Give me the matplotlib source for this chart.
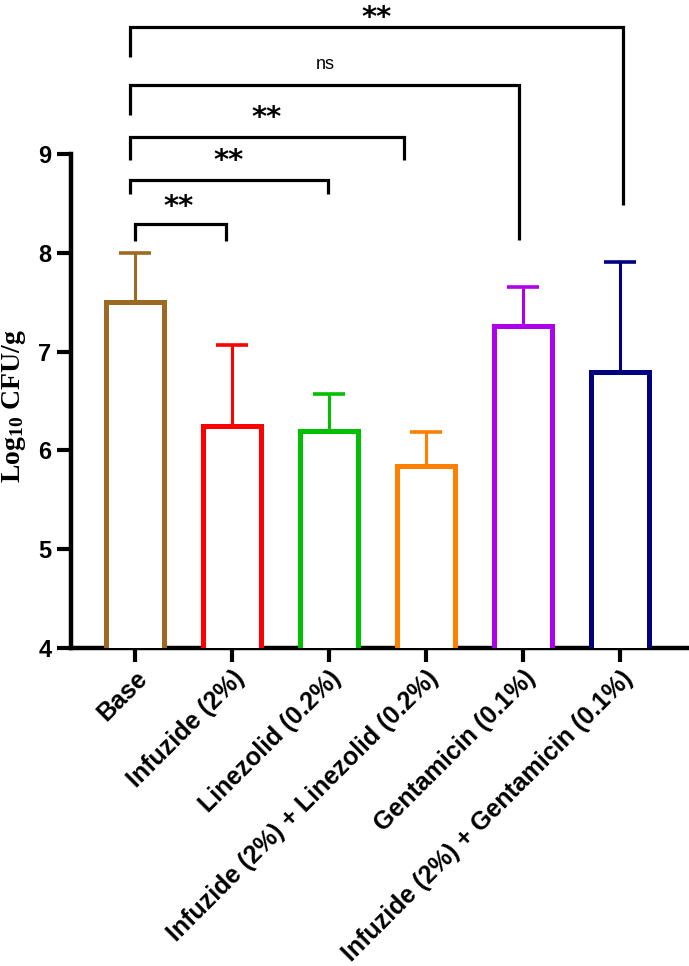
import numpy as np
import matplotlib
matplotlib.use("Agg")
import matplotlib.pyplot as plt

groups = ["Base", "Infuzide (2%)", "Linezolid (0.2%)", "Infuzide (2%) + Linezolid (0.2%)",
          "Gentamicin (0.1%)", "Infuzide (2%) + Gentamicin (0.1%)"]
means = [7.50, 6.25, 6.20, 5.84, 7.26, 6.79]
upper = [8.00, 7.07, 6.57, 6.19, 7.65, 7.91]   # top of error bar
colors = ["#9C6A22", "#FF0000", "#00C000", "#FF8000", "#AE00EA", "#000080"]

# significance brackets: (x left, x right, y bar, y left end, y right end, label, label x, label y)
brackets = [
    (0.00, 0.94, 8.29, 8.12, 8.12, "**", 0.45, 8.46),
    (-0.05, 1.99, 8.74, 8.59, 8.59, "**", 0.96, 8.93),
    (-0.05, 2.77, 9.17, 8.94, 8.94, "**", 1.36, 9.36),
    (-0.05, 3.96, 9.70, 9.39, 8.13, "ns", 1.96, 9.91),
    (-0.05, 5.03, 10.29, 9.98, 8.48, "**", 2.49, 10.38),
]

plt.rcParams['font.family'] = ['Liberation Sans', 'DejaVu Sans']
plt.rcParams['mathtext.fontset'] = 'custom'
plt.rcParams['mathtext.rm'] = 'Liberation Serif:bold'
plt.rcParams['mathtext.default'] = 'regular'

fig = plt.figure(figsize=(6.89, 9.66), dpi=100)
ax = fig.add_axes([0.103, 0.3292, 0.896, 0.5114])

x = np.arange(len(groups))
means = np.array(means)
err = np.array(upper) - means

for i in range(len(groups)):
    ax.errorbar(x[i], means[i], yerr=[[0], [err[i]]], fmt='none', ecolor=colors[i],
                elinewidth=2.2, capsize=11.5, capthick=2.6, zorder=2)
    ax.bar(x[i], means[i], width=0.6, color='white', edgecolor=colors[i],
           linewidth=3.6, zorder=3)

for x0, x1, yb, yl, yr, lab, tx, ty in brackets:
    ax.plot([x0, x0, x1, x1], [yl, yb, yb, yr], color='black', lw=2.3,
            clip_on=False, solid_capstyle='butt', solid_joinstyle='miter', zorder=4)
    if lab == "ns":
        ax.text(tx, ty, lab, ha='center', va='center', fontsize=13, clip_on=False)
    else:
        ax.text(tx, ty, lab, ha='center', va='center', fontsize=21, fontweight='bold',
                family='DejaVu Sans', clip_on=False)

ax.set_ylim(4, 9)
ax.set_xlim(-0.66, 5.70)
ax.set_yticks([4, 5, 6, 7, 8, 9])
ax.set_xticks(x)
ax.set_xticklabels(groups, rotation=45, ha='right', rotation_mode='anchor')
for t in ax.get_xticklabels():
    t.set_fontweight('bold')
    t.set_fontsize(18)
for t in ax.get_yticklabels():
    t.set_fontweight('bold')
    t.set_fontsize(17)

ax.spines['top'].set_visible(False)
ax.spines['right'].set_visible(False)
ax.spines['left'].set_linewidth(3.2)
ax.spines['bottom'].set_linewidth(3.2)
ax.tick_params(axis='both', length=10, width=3, pad=4)
ax.tick_params(axis='x', pad=3)

ax.set_ylabel("Log$_{10}$ CFU/g", fontsize=20, fontweight='bold', family='Liberation Serif')
ax.yaxis.set_label_coords(-0.07, 0.49)

fig.savefig("out.png", dpi=100)
